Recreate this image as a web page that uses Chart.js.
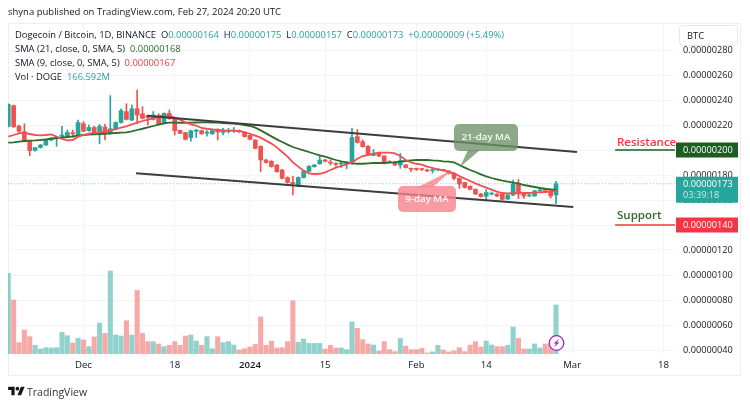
<!DOCTYPE html>
<html>
<head>
<meta charset="utf-8">
<title>DOGE / BTC</title>
<script src="https://cdn.jsdelivr.net/npm/chart.js@4"></script>
<style>
  html, body { margin: 0; padding: 0; background: #fff; }
  body { width: 750px; height: 406px; position: relative; overflow: hidden; font-family: "Open Sans", sans-serif; color: #131722; }
  canvas { position: absolute; left: 0; top: 0; }
  .frame { position: absolute; left: 8px; top: 23px; width: 733px; height: 353px; border: 1px solid #eceef3; box-sizing: border-box; }
  .txt { position: absolute; white-space: pre; font-size: 9.4px; line-height: 14px; }
  .up { color: #26a69a; }
  .sma21 { color: #2f6b2b; }
  .sma9 { color: #f23645; }
  #brand { position: absolute; left: 8px; top: 385px; }
</style>
</head>
<body>
<div class="frame"></div>
<canvas id="chart" width="750" height="406"></canvas>
<div class="txt" style="left:8px;top:5px;font-size:9.5px">shyna published on TradingView.com, Feb 27, 2024 20:20 UTC</div>
<div class="txt" style="left:15px;top:28px">Dogecoin / Bitcoin, 1D, BINANCE  O<span class="up">0.00000164</span>  H<span class="up">0.00000175</span>  L<span class="up">0.00000157</span>  C<span class="up">0.00000173</span>  <span class="up">+0.00000009 (+5.49%)</span></div>
<div class="txt" style="left:15px;top:42px">SMA (21, close, 0, SMA, 5)  <span class="sma21">0.00000168</span></div>
<div class="txt" style="left:15px;top:56px">SMA (9, close, 0, SMA, 5)  <span class="sma9">0.00000167</span></div>
<div class="txt" style="left:15px;top:70px">Vol · DOGE  <span class="up">166.592M</span></div>
<svg id="brand" width="17" height="13" viewBox="0 0 36 28"><path d="M14 22H7V11H0V4h14v18zM28 22h-8l7.5-18h8L28 22z" fill="#131722"/><circle cx="20" cy="8" r="4" fill="#131722"/></svg>
<div class="txt" style="left:27px;top:385px;font-size:10.5px;color:#333">TradingView</div>

<script>
// all prices in units of 0.00000001 BTC, one entry per day, first day is Nov 17
const opens = [
  219,235.5,219,214.7,207,199.7,202,204,208,209,
  209.5,211.5,213.5,211.5,221,215.5,218,215,218.4,213,
  216.5,222,230.7,224,233,229,227.5,224.5,227.5,221.3,
  229.3,225.3,215.7,213.9,210,215,215.5,213.5,213,216.5,
  214,214.8,215,215.5,214.4,211.7,208,203,192,191,
  188,184,178,174,171,178,183,186.7,189,192,
  190,189.3,188.8,189,189.3,210.7,206.7,203,195.7,197.3,
  195.2,190.5,190.7,188,188,185,184.8,184.6,184,183.5,
  184,184,183.2,181.5,177.3,174,171,168.5,164.8,163,
  164.7,164.8,164.8,160.8,164,173.3,164.8,163.2,163.2,167,
  168,167.5,164
];
const closes = [
  236.5,218.7,215,207,199.5,202,204,208,209.5,210,
  212,214,213,222,215,218,213.5,219,213.5,217,
  222,231.5,224.5,233,228,225.3,226,228,221,229.3,
  225,215.5,213.3,208.5,215.5,216,213,214,215.5,214.4,
  216,215,215.5,214.5,210.7,208.5,201.3,192,190,186.7,
  182.7,177.3,174,173,178,183,187,188,192,191,
  189.5,188.5,189,190,210,206,202.7,196,197.3,195.2,
  189.3,190,188,191.5,186,184.6,184.5,184.4,183.2,184,
  184.3,183.7,181.3,177.3,172.8,170,168.5,164.8,162.7,166,
  165,163.2,160.5,164,172.8,164.8,163.2,164,167.2,168,
  167.6,163.2,173
];
const highs = [
  237,236,220,221,207.5,200.5,204.5,208.5,210,210.5,
  219,216,216,224,222.7,220,219,220.5,220.5,243.5,
  222.5,233,237,236,248,234.7,228,230.7,229,229.8,
  232,225.8,216,214.2,216,216.5,216,215.5,216,217,
  217.3,217.3,218,216,214.8,212,208.3,203.3,192.5,191.5,
  188.5,184.5,178.5,179,178.5,183.5,187.5,188.5,195,192.5,
  192,190,190.5,190.5,217.3,216.5,208,203.5,200.5,198,
  195.5,191.5,191,197.3,188.5,185.5,185.5,185,184.8,186,
  185,184.5,183.5,181.8,177.8,174.3,171.3,169,165.3,168.5,
  166.5,165.2,165.2,164.5,176,176.5,165.3,164.5,168,169,
  169,168.5,175
];
const lows = [
  218.5,218,214,206.5,195.5,199,201.5,203.7,207.5,203,
  209,210.5,210,211,214.5,215,213,205,208,212.5,
  216,221.5,224,223.5,221,224.8,220,224,220,221,
  224.5,212,213,208,207,210,212.5,211,212.5,208,
  212,213.5,214,214,210.3,208,201,182.7,189.5,186.2,
  182.2,176.8,173.5,164,170.5,177.5,182.5,186.2,188.5,190.5,
  188,187,186,185,188.5,205.5,202.2,195.5,195.3,194.7,
  188.8,189.5,187.5,185.3,185.5,182.7,183.5,183.5,182.7,181.5,
  183.5,183,180.8,176,169.3,169.5,168,164.3,162.2,160,
  164,162.7,160,160.3,163.5,161,161.3,162.7,162.8,167.5,
  167,161.5,157
];
// volume in millions of DOGE
const volumes = [
  274,183.5,38.5,81.6,59,29.5,17,21.5,20.4,21.5,
  73.6,62.3,37.4,53,47.6,25,57.8,105,70,282,
  64.6,61,113,64.6,216,70,42,42,34,25,
  29.5,42,29.5,61,64.6,44,29.5,59,18,59,
  38.5,42,30.6,13.6,18,23.8,33,125.8,29.5,44,
  20.4,21.5,42,181,39.7,51,36,36,36,17,
  29.5,20.4,20.4,14.7,108.8,87,48.7,34,30.6,10.2,
  42,14.7,8,53,27,14.7,14.7,19,3.4,6.8,
  29.5,13.6,6.8,10.2,21.5,8,30.6,42,23.8,44,
  30.6,25,25,29.5,91.8,53,17,17,34,20.4,
  34,34,166.6
];
const sma21 = [
  205.9,206.1,206.7,207.2,207.5,207.7,208,208.5,209,209.6,
  209.9,210.4,210.9,211.5,212,212.3,212.5,212.8,213,213.3,
  213.6,213.9,214.1,214.9,216,217,218.1,219.2,220.3,221.3,
  221.9,221.9,221.8,221.8,221.9,222,222.1,222.1,221.9,221.9,
  221.6,221.3,221.1,220.8,220,219.2,217.9,215.7,213.3,210.9,
  208.5,206.4,204.3,202.4,201,199.7,198.4,197,195.7,194.7,
  193.3,192,190.9,190.1,189.3,189,189,189.3,189.6,189.6,
  189.6,189.9,190.1,190.7,191.2,191.7,192,192,192,191.7,
  191.5,190.9,190.7,190.1,188,185.9,184,182.4,180.5,178.9,
  177.6,176.5,175.5,174.7,173.9,173.3,172,171.2,170.4,169.6,
  169,168.5,168
];
const sma9 = [
  210.7,212,213.3,213.9,212.8,212,211.7,212,212.5,210.7,
  208.8,207.7,208,210.7,212,213,213.9,214.1,214.7,215.5,
  216.8,217.9,218.9,220.5,221.9,223.2,224.3,225.3,226.9,227.5,
  227.2,225.9,224.3,222.1,220.5,219.5,217.6,217,216.5,216,
  215.7,215.5,215.5,215.2,214.1,213,211.5,209.9,207.5,205.1,
  202.1,198.4,194.7,190.1,186.7,183.5,181.3,180.8,181,182.1,
  184,185.9,187.2,188.5,189.9,193,195.2,196,197.1,197.9,
  197.9,197.9,197.3,195.2,192,190.1,189,188.3,186.7,185.6,
  184.5,183.7,182.7,181.3,179.2,177.1,175.2,173.3,171.5,169.9,
  168.3,166.7,165.6,165.3,165.6,165.9,165.6,165.6,165.9,166.1,
  166.4,166.7,167.2
];

// trend channel ends, drawn by hand on the original chart
const upperTrendDays = [25.8, 105.9];
const upperTrendPrices = [227.4, 198.4];
const lowerTrendDays = [23.8, 105.2];
const lowerTrendPrices = [181.4, 154.4];

const levelDays = [113, 124.15];
const resistanceLevel = 200;
const supportLevel = 140;
const lastPrice = 173;

const priceTicks = [40,60,80,100,120,140,160,180,200,220,240,260,280];
const dateTickDays = [14, 31, 45, 59, 76, 89, 105, 122];
const dateTickLabels = ['Dec', '18', '2024', '15', 'Feb', '14', 'Mar', '18'];

const TEAL = '#26a69a';
const RED = '#ef5350';
const days = closes.map((c, i) => i);
const isUp = i => closes[i] >= opens[i];
const fmt = v => (v / 1e8).toFixed(8);
const FONT = '"Open Sans", sans-serif';

function line2(days2, prices, color, width, order, dash) {
  return {
    type: 'line', yAxisID: 'y', order,
    data: days2.map((d, i) => ({ x: d, y: prices[i] })),
    borderColor: color, borderWidth: width, borderDash: dash || [],
    pointRadius: 0, tension: 0, fill: false
  };
}

function roundBubble(ctx, x, y, w, h, tail, color, label) {
  ctx.fillStyle = color;
  ctx.beginPath();
  ctx.roundRect(x, y, w, h, 5);
  ctx.fill();
  ctx.beginPath();
  ctx.moveTo(tail[0], tail[1]);
  ctx.lineTo(tail[2], tail[3]);
  ctx.lineTo(tail[4], tail[5]);
  ctx.closePath();
  ctx.fill();
  ctx.fillStyle = 'rgba(255,255,255,0.92)';
  ctx.font = '600 9.7px ' + FONT;
  ctx.textAlign = 'center';
  ctx.textBaseline = 'middle';
  ctx.fillText(label, x + w / 2, y + h / 2);
}

function priceTag(ctx, y, color, label, sub) {
  const h = sub ? 26 : 15;
  const top = sub ? y - 7 : y - h / 2;
  ctx.fillStyle = color;
  ctx.fillRect(676, top, 62, h);
  ctx.fillStyle = '#fff';
  ctx.font = '9.2px ' + FONT;
  ctx.textAlign = 'left';
  ctx.textBaseline = 'middle';
  ctx.fillText(label, 683, sub ? top + 7.5 : y + 0.5);
  if (sub) {
    ctx.fillStyle = 'rgba(255,255,255,0.75)';
    ctx.fillText(sub, 683, top + 19);
  }
}

// callouts, price tags and small widgets on top of the chart
const overlay = {
  id: 'overlay',
  afterDraw(chart) {
    const ctx = chart.ctx;
    const y = chart.scales.y;
    ctx.save();

    roundBubble(ctx, 454, 124, 64, 27, [468, 150, 480, 150, 460, 167], 'rgba(107,146,101,0.78)', '21-day MA');
    roundBubble(ctx, 398, 186, 58, 26, [418, 187, 433, 187, 452, 170], 'rgba(247,130,140,0.8)', '9-day MA');

    ctx.font = '600 11.5px ' + FONT;
    ctx.textAlign = 'left';
    ctx.textBaseline = 'middle';
    ctx.fillStyle = '#f23645';
    ctx.fillText('Resistance', 617, 143);
    ctx.fillStyle = '#2f6b2b';
    ctx.fillText('Support', 617, 216);

    // the currency button sits over the top tick
    ctx.fillStyle = '#fff';
    ctx.strokeStyle = '#e6e8ee';
    ctx.beginPath();
    ctx.roundRect(679.5, 25.5, 58, 20, 3);
    ctx.fill();
    ctx.stroke();
    ctx.fillStyle = '#131722';
    ctx.font = '9.4px ' + FONT;
    ctx.fillText('BTC', 687, 36);

    priceTag(ctx, y.getPixelForValue(resistanceLevel), '#1b5e20', fmt(resistanceLevel));
    priceTag(ctx, y.getPixelForValue(lastPrice), TEAL, fmt(lastPrice), '03:39:18');
    priceTag(ctx, y.getPixelForValue(supportLevel), '#f23645', fmt(supportLevel));

    // lightning badge
    const bx = 556.5, by = 343;
    ctx.fillStyle = '#fff';
    ctx.strokeStyle = '#9c27b0';
    ctx.lineWidth = 1.3;
    ctx.beginPath();
    ctx.arc(bx, by, 7.3, 0, Math.PI * 2);
    ctx.fill();
    ctx.stroke();
    ctx.fillStyle = '#9c27b0';
    ctx.beginPath();
    ctx.moveTo(bx + 2.6, by - 4.5);
    ctx.lineTo(bx - 3, by + 0.8);
    ctx.lineTo(bx - 0.3, by + 0.5);
    ctx.lineTo(bx - 2.6, by + 4.5);
    ctx.lineTo(bx + 3, by - 0.8);
    ctx.lineTo(bx + 0.3, by - 0.5);
    ctx.closePath();
    ctx.fill();
    ctx.restore();
  }
};

new Chart(document.getElementById('chart').getContext('2d'), {
  type: 'bar',
  data: {
    datasets: [
      {
        label: 'Volume', yAxisID: 'vol', order: 9, grouped: false,
        data: days.map(i => ({ x: i, y: volumes[i] })),
        backgroundColor: days.map(i => isUp(i) ? 'rgba(38,166,154,0.5)' : 'rgba(239,83,80,0.5)'),
        barThickness: 4.4
      },
      {
        label: 'Wicks', yAxisID: 'y', order: 8, grouped: false,
        data: days.map(i => ({ x: i, y: [lows[i], highs[i]] })),
        backgroundColor: days.map(i => isUp(i) ? TEAL : RED),
        barThickness: 1
      },
      {
        label: 'Candles', yAxisID: 'y', order: 7, grouped: false,
        data: days.map(i => ({ x: i, y: [opens[i], closes[i]] })),
        backgroundColor: days.map(i => isUp(i) ? TEAL : RED),
        barThickness: 4, minBarLength: 1
      },
      line2([-0.05, 124.15], [lastPrice, lastPrice], 'rgba(38,166,154,0.55)', 1, 6, [1, 2]),
      line2(days, sma21, '#2f6b2b', 1.8, 5),
      line2(days, sma9, '#ef4f55', 1.8, 4),
      line2(upperTrendDays, upperTrendPrices, '#3d3d3d', 1.8, 3),
      line2(lowerTrendDays, lowerTrendPrices, '#3d3d3d', 1.8, 3),
      line2(levelDays, [resistanceLevel, resistanceLevel], '#1b5e20', 1.5, 2),
      line2(levelDays, [supportLevel, supportLevel], '#f23645', 1.5, 2)
    ]
  },
  options: {
    responsive: false,
    animation: false,
    layout: { padding: { left: 8, right: 9, top: 23, bottom: 29 } },
    plugins: { legend: { display: false }, tooltip: { enabled: false } },
    scales: {
      x: {
        type: 'linear', min: -0.05, max: 124.15, offset: false,
        grid: { color: '#f2f4f8', offset: false, drawTicks: false },
        border: { display: false },
        afterBuildTicks: s => { s.ticks = dateTickDays.map(v => ({ value: v })); },
        afterFit: s => { s.height = 23; },
        ticks: {
          autoSkip: false, maxRotation: 0, padding: 6, color: '#131722',
          font: c => ({ family: '"Open Sans", sans-serif', size: 9.6, weight: c.tick && c.tick.value === 45 ? '600' : '400' }),
          callback: v => dateTickLabels[dateTickDays.indexOf(v)]
        }
      },
      y: {
        position: 'right', min: 36.8, max: 301.6,
        grid: { color: '#f2f4f8', drawTicks: false },
        border: { display: false },
        afterBuildTicks: s => { s.ticks = priceTicks.map(v => ({ value: v })); },
        afterFit: s => { s.width = 66; },
        ticks: {
          autoSkip: false, padding: 8, color: '#131722',
          font: { family: '"Open Sans", sans-serif', size: 9.2 },
          callback: v => fmt(v)
        }
      },
      vol: { display: false, min: 0, max: 1125 }
    }
  },
  plugins: [overlay]
});
</script>
</body>
</html>
